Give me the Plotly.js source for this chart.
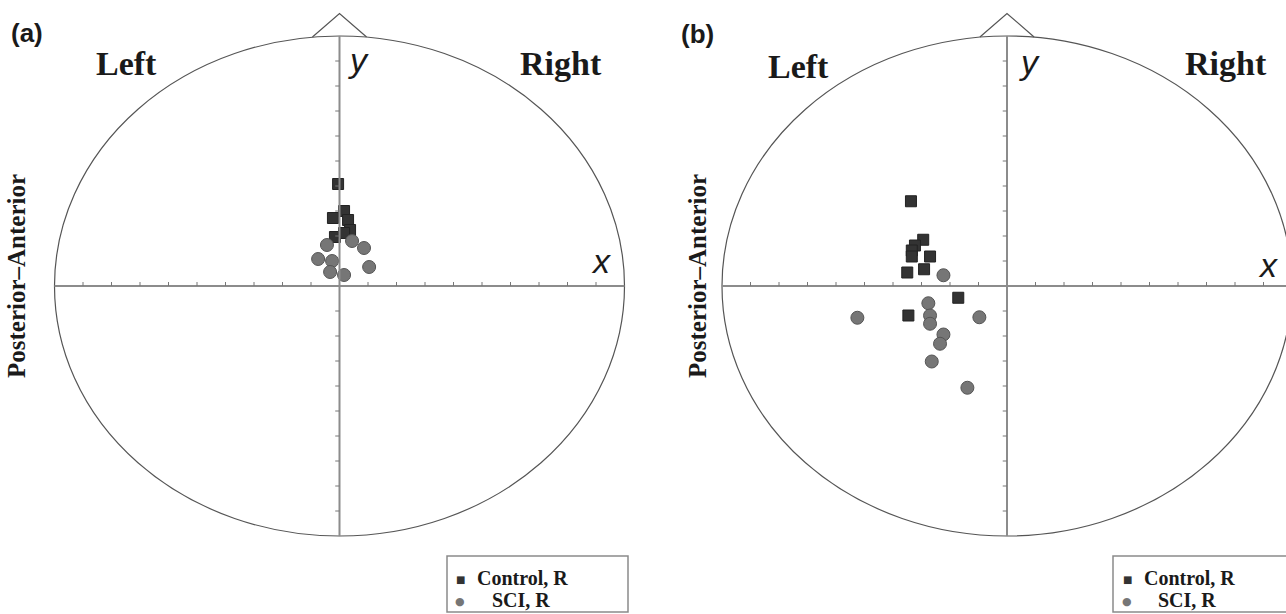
<!DOCTYPE html>
<html>
<head>
<meta charset="utf-8">
<script src="https://cdn.plot.ly/plotly-3.0.1.min.js"></script>
<style>html,body{margin:0;padding:0;background:#fff;}#chart{width:1286px;height:614px;}</style>
</head>
<body>
<div id="chart"></div>
<script>
// ---- data ----
const panelAControlX = [-0.05, 0.16, -0.23, 0.30, 0.37, -0.16, 0.16];
const panelAControlY = [4.08, 3.00, 2.72, 2.64, 2.24, 1.96, 2.12];
const panelASciX = [-0.44, 0.44, 0.86, -0.75, -0.26, -0.33, 0.16, 1.04];
const panelASciY = [1.64, 1.80, 1.52, 1.08, 1.00, 0.56, 0.44, 0.76];

const panelBControlX = [-3.37, -2.94, -3.23, -3.34, -3.34, -2.70, -3.50, -2.91, -1.71, -3.46];
const panelBControlY = [3.39, 1.85, 1.62, 1.42, 1.18, 1.18, 0.54, 0.67, -0.47, -1.18];
const panelBSciX = [-2.23, -2.76, -5.25, -2.70, -2.70, -0.97, -2.23, -2.35, -2.64, -1.39];
const panelBSciY = [0.43, -0.69, -1.27, -1.18, -1.51, -1.25, -1.94, -2.31, -3.02, -4.07];

const seriesNames = ["Control, R", "SCI, R"];
const legendSymbols = ["\u25A0", "\u25CF"];
const panelLabels = ["(a)", "(b)"];
const sideLabels = ["Left", "Right"];
const axisLetters = ["x", "y"];
const verticalLabel = "Posterior\u2013Anterior";
const headRadius = 10;
const tickValues = [-9,-8,-7,-6,-5,-4,-3,-2,-1,1,2,3,4,5,6,7,8,9];

// ---- geometry (pixels) ----
const W = 1286, H = 614;
const unitX = 28.5, unitY = 25;
const centerY = 286;
const panels = [
  {cx: 339.5, left: 30, right: 650, xa: 'x', ya: 'y'},
  {cx: 1007, left: 680, right: 1286, xa: 'x2', ya: 'y2'}
];
const yRange = [-(H - centerY) / unitY, centerY / unitY];
function xr(p) { return [-(p.cx - p.left) / unitX, (p.right - p.cx) / unitX]; }

const sqColor = '#333333', ciColor = '#767676';
const traces = [];
function addPair(p, cX, cY, sX, sY) {
  traces.push({type:'scatter', mode:'markers', x:cX, y:cY, xaxis:p.xa, yaxis:p.ya, showlegend:false,
    name: seriesNames[0], marker:{symbol:'square', size:11, color:sqColor, line:{color:'#222', width:1}}});
  traces.push({type:'scatter', mode:'markers', x:sX, y:sY, xaxis:p.xa, yaxis:p.ya, showlegend:false,
    name: seriesNames[1], marker:{symbol:'circle', size:13, color:ciColor, line:{color:'#555', width:1}}});
}
addPair(panels[0], panelAControlX, panelAControlY, panelASciX, panelASciY);
addPair(panels[1], panelBControlX, panelBControlY, panelBSciX, panelBSciY);

const shapes = [];
const annotations = [];
const axColor = '#8c8c8c';
panels.forEach((p) => {
  const xref = p.xa, yref = p.ya;
  shapes.push({type:'circle', xref, yref, x0:-headRadius, x1:headRadius, y0:-headRadius, y1:headRadius,
    line:{color:'#555', width:1.2}});
  shapes.push({type:'path', xref, yref, path:'M -0.95 9.96 L 0 10.9 L 0.95 9.96',
    line:{color:'#555', width:1.2}});
  shapes.push({type:'line', xref, yref, x0:-headRadius, x1:headRadius, y0:0, y1:0, line:{color:axColor, width:2}});
  shapes.push({type:'line', xref, yref, x0:0, x1:0, y0:-headRadius, y1:headRadius, line:{color:axColor, width:2}});
  tickValues.forEach(t => {
    shapes.push({type:'line', xref, yref, x0:t, x1:t, y0:0, y1:0.16, line:{color:'#777', width:1}});
    shapes.push({type:'line', xref, yref, x0:-0.15, x1:0, y0:t, y1:t, line:{color:'#777', width:1}});
  });
});

function px(x) { return x / W; }
function py(y) { return 1 - y / H; }

const SERIF = 'Liberation Serif, Times New Roman, serif';
const SANS = 'Liberation Sans, Arial, sans-serif';
const INK = '#1a1a1a';
function addText(t, x, y, size, family, style, anchor) {
  const txt = style === 'i' ? '<i>' + t + '</i>' : '<b>' + t + '</b>';
  annotations.push({text: txt, xref:'paper', yref:'paper', x: px(x), y: py(y), xanchor: anchor || 'center',
    yanchor:'middle', showarrow:false, borderpad:0, font:{family, size, color: INK}});
}
// panel (a)
addText(panelLabels[0], 27, 33, 26, SANS, 'b');
addText(sideLabels[0], 126, 63, 34, SERIF, 'b');
addText(sideLabels[1], 561, 63, 34, SERIF, 'b');
addText(axisLetters[1], 358, 60, 34, SANS, 'i');
addText(axisLetters[0], 601, 261, 34, SANS, 'i');
// panel (b)
addText(panelLabels[1], 697, 34, 26, SANS, 'b');
addText(sideLabels[0], 799, 66, 34, SERIF, 'b');
addText(sideLabels[1], 1226, 63, 34, SERIF, 'b');
addText(axisLetters[1], 1029, 62, 34, SANS, 'i');
addText(axisLetters[0], 1268, 265, 34, SANS, 'i');

[16, 697].forEach(xp => {
  annotations.push({text: '<b>' + verticalLabel + '</b>', xref:'paper', yref:'paper', x: px(xp), y: py(276),
    xanchor:'center', yanchor:'middle', textangle:-90, showarrow:false,
    font:{family: SERIF, size: 25, color: INK}});
});

// legends (box + symbol + text)
const legendBoxes = [{x0: 447, x1: 628, sym: 460, txt: [476, 491]}, {x0: 1113, x1: 1296, sym: 1127, txt: [1143, 1157]}];
const legendRows = [578, 600];
legendBoxes.forEach(b => {
  shapes.push({type:'rect', xref:'paper', yref:'paper', x0:px(b.x0), x1:px(b.x1), y0:py(612), y1:py(556),
    line:{color:'#8a8a8a', width:1.5}});
  legendRows.forEach((yy, k) => {
    annotations.push({text: legendSymbols[k], xref:'paper', yref:'paper', x: px(b.sym), y: py(yy + 1),
      xanchor:'center', yanchor:'middle', showarrow:false, borderpad:0,
      font:{family:'DejaVu Sans, sans-serif', size: k === 0 ? 10 : 11, color: k === 0 ? sqColor : ciColor}});
    addText(seriesNames[k], b.txt[k], yy, 20, SERIF, 'b', 'left');
  });
});

const axisCommon = {visible:false, showgrid:false, zeroline:false, fixedrange:true};
const layout = {
  width: W, height: H, margin:{l:0, r:0, t:0, b:0}, paper_bgcolor:'#fff', plot_bgcolor:'rgba(0,0,0,0)',
  showlegend: false,
  xaxis: Object.assign({}, axisCommon, {domain:[px(panels[0].left), px(panels[0].right)], range: xr(panels[0]), anchor:'y'}),
  yaxis: Object.assign({}, axisCommon, {domain:[0,1], range: yRange, anchor:'x'}),
  xaxis2: Object.assign({}, axisCommon, {domain:[px(panels[1].left), px(panels[1].right)], range: xr(panels[1]), anchor:'y2'}),
  yaxis2: Object.assign({}, axisCommon, {domain:[0,1], range: yRange, anchor:'x2'}),
  shapes, annotations
};

Plotly.newPlot('chart', traces, layout, {staticPlot:true, displayModeBar:false});
</script>
</body>
</html>
